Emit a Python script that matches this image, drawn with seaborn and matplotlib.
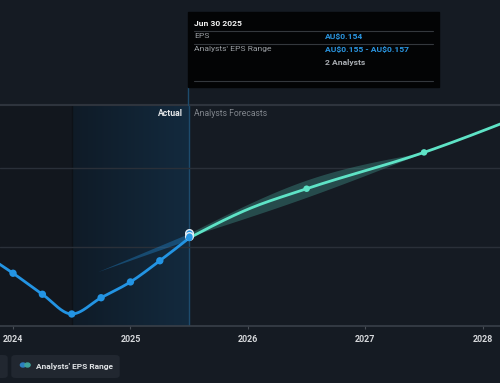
import numpy as np
import pandas as pd
import matplotlib
matplotlib.use("Agg")
import matplotlib.pyplot as plt
import seaborn as sns
from matplotlib.patches import FancyBboxPatch, Rectangle, Circle
from matplotlib.colors import LinearSegmentedColormap

# ---------------- data ----------------
actual_x = [2023.75, 2024.0, 2024.25, 2024.5, 2024.75, 2025.0, 2025.25, 2025.5]
actual_eps = [0.144, 0.1317, 0.1184, 0.1059, 0.1162, 0.1262, 0.1396, 0.154]

forecast_x = [2025.5, 2026.0, 2026.5, 2027.5, 2028.5]
forecast_eps = [0.154, 0.1722, 0.1852, 0.2082, 0.2365]
forecast_marker_x = [2026.5, 2027.5]
forecast_marker_eps = [0.1852, 0.2082]

range_x = [2025.5, 2026.5, 2027.5]
range_low = [0.155, 0.1798, 0.2082]
range_high = [0.157, 0.1907, 0.2082]

past_range_x = [2024.72, 2025.5]
past_range_low = [0.1327, 0.153]
past_range_high = [0.1327, 0.157]

year_ticks = [2024, 2025, 2026, 2027, 2028]

# ---------------- style ----------------
BG = "#151b23"
BLUE = "#2394e3"
TEAL = "#5ee3c6"
sns.set_theme(style="dark")
plt.rcParams["font.family"] = ["Roboto", "DejaVu Sans"]


def smooth(xs, ys, n=300):
    """Monotone cubic curve through the given points (for drawing only)."""
    xs = np.asarray(xs, float)
    ys = np.asarray(ys, float)
    h = np.diff(xs)
    d = np.diff(ys) / h
    m = np.zeros_like(ys)
    for i in range(1, len(ys) - 1):
        if d[i - 1] * d[i] <= 0:
            m[i] = 0.0
        else:
            p = (d[i - 1] * h[i] + d[i] * h[i - 1]) / (h[i - 1] + h[i])
            m[i] = 2 * min(abs(d[i - 1]), abs(d[i]), 0.5 * abs(p)) * np.sign(d[i])
    if len(ys) > 2:
        m[0] = (3 * d[0] - m[1]) / 2
        m[-1] = (3 * d[-1] - m[-2]) / 2
    else:
        m[0] = m[-1] = d[0]
    xx = np.linspace(xs[0], xs[-1], n)
    idx = np.clip(np.searchsorted(xs, xx) - 1, 0, len(xs) - 2)
    t = (xx - xs[idx]) / h[idx]
    h00 = 2 * t**3 - 3 * t**2 + 1
    h10 = t**3 - 2 * t**2 + t
    h01 = -2 * t**3 + 3 * t**2
    h11 = t**3 - t**2
    yy = h00 * ys[idx] + h10 * h[idx] * m[idx] + h01 * ys[idx + 1] + h11 * h[idx] * m[idx + 1]
    return xx, yy


fig = plt.figure(figsize=(5.0, 3.83), dpi=100, facecolor=BG)
W, H = 500, 383
ax = fig.add_axes([0, 1 - 326 / H, 1, (326 - 105) / H])
ax.set_facecolor(BG)

XMIN, XMAX = 2023.889, 2028.147
YMIN, YMAX = 0.0983, 0.2382

# region left of actual highlight
ax.add_patch(Rectangle((XMIN, YMIN), 2024.5 - XMIN, YMAX - YMIN, color="#12171e", zorder=0, lw=0))
# actual highlight gradient
cmap = LinearSegmentedColormap.from_list("g", ["#0f1b27", "#132a3e"])
grad = np.linspace(0, 1, 256).reshape(1, -1)
ax.imshow(grad, extent=[2024.5, 2025.5, YMIN, YMAX], aspect="auto", cmap=cmap, zorder=0.5)
ax.axvline(2024.5, color="#0d1117", lw=1, zorder=0.6)
ax.axvline(2025.5, color="#1d4b6c", lw=1, zorder=0.7)

# grid lines
for gy in [0.1483, 0.1983]:
    ax.axhline(gy, color="#2a3039", lw=1, zorder=0.8)

# past faint range wedge
ax.fill_between(past_range_x, past_range_low, past_range_high, color=BLUE, alpha=0.35, lw=0, zorder=1)

# forecast range band
bx, blo = smooth(range_x, range_low)
_, bhi = smooth(range_x, range_high)
ax.fill_between(bx, blo, bhi, color="#3f8f86", alpha=0.42, lw=0, zorder=1.2)

# lines
ax_x, ax_y = smooth(actual_x, actual_eps)
sns.lineplot(x=ax_x, y=ax_y, ax=ax, color=BLUE, lw=2, zorder=3, estimator=None, sort=False)
fx, fy = smooth(forecast_x, forecast_eps)
sns.lineplot(x=fx, y=fy, ax=ax, color=TEAL, lw=2, zorder=3, estimator=None, sort=False)

# markers
sns.scatterplot(x=actual_x[1:-1], y=actual_eps[1:-1], ax=ax, color=BLUE, s=28, edgecolor="none", zorder=4)
sns.scatterplot(x=forecast_marker_x, y=forecast_marker_eps, ax=ax, color=TEAL, s=22, edgecolor="none", zorder=4)
sns.scatterplot(x=[range_x[0], range_x[0]], y=[range_high[0], range_low[0]], ax=ax, color=BLUE, s=30,
                edgecolor="#e8eef4", linewidth=1, zorder=5)
sns.scatterplot(x=[actual_x[-1]], y=[actual_eps[-1]], ax=ax, color=BLUE, s=22, edgecolor="none", zorder=6)

ax.set_xlim(XMIN, XMAX)
ax.set_ylim(YMIN, YMAX)
ax.set_yticks([])
ax.set_xticks(year_ticks)
ax.set_xticklabels([str(y) for y in year_ticks], fontsize=6.4, color="#d6d8db", fontweight="bold")
ax.tick_params(axis="x", length=2.5, width=0.8, color="#4a5058", pad=4, bottom=True)
ax.set_xlabel("")
ax.set_ylabel("")
for s in ["left", "right"]:
    ax.spines[s].set_visible(False)
ax.spines["bottom"].set_color("#394049")
ax.spines["bottom"].set_linewidth(1.2)
ax.spines["top"].set_color("#2e343d")
ax.spines["top"].set_linewidth(1.5)
ax.grid(False)


def fxp(px):
    return px / W


def fyp(py):
    return 1 - py / H


fig.text(fxp(183), fyp(114), "Actual", ha="right", va="center", fontsize=6.2, color="#e6e8ea", fontweight="bold")
fig.text(fxp(194), fyp(114), "Analysts Forecasts", ha="left", va="center", fontsize=6.2, color="#80858c")

# tooltip
fig.patches.append(Rectangle((fxp(188.3), fyp(87)), fxp(438.7 - 188.3), (87 - 12.3) / H,
                             transform=fig.transFigure, color="#030405", zorder=5))
fig.lines.append(plt.Line2D([fxp(188.3), fxp(188.3)], [fyp(87), fyp(105)], transform=fig.transFigure,
                            color="#1d4b6c", lw=1))
for ly in [30.7, 43.7, 80.7]:
    fig.lines.append(plt.Line2D([fxp(194), fxp(433)], [fyp(ly), fyp(ly)], transform=fig.transFigure,
                                color="#34383d", lw=0.8, zorder=6))
TF = 6.1
fig.text(fxp(194), fyp(23.3), "Jun 30 2025", fontsize=TF, color="#f2f2f2", fontweight="bold", va="center", zorder=7)
fig.text(fxp(194), fyp(36.5), "EPS", fontsize=TF, color="#9a9ea3", va="center", zorder=7)
fig.text(fxp(325), fyp(36.5), "AU\\$0.154", fontsize=TF, color="#2a95e0", fontweight="bold", va="center", zorder=7)
fig.text(fxp(194), fyp(49.3), "Analysts' EPS Range", fontsize=TF, color="#9a9ea3", va="center", zorder=7)
fig.text(fxp(325), fyp(49.3), "AU\\$0.155 - AU\\$0.157", fontsize=TF, color="#2a95e0", fontweight="bold",
         va="center", zorder=7)
fig.text(fxp(325), fyp(62), "2 Analysts", fontsize=TF, color="#a9adb2", fontweight="bold", va="center", zorder=7)

# legend buttons
for x0, x1 in [(-20, 7.7), (11.3, 119.7)]:
    fig.patches.append(FancyBboxPatch((fxp(x0), fyp(378)), fxp(x1 - x0), (378 - 355) / H,
                                      boxstyle="round,pad=0,rounding_size=0.008", transform=fig.transFigure,
                                      facecolor="#212730", edgecolor="none"))
fig.patches.append(Circle((fxp(23), fyp(365)), 2.6 / W, transform=fig.transFigure, color="#2c7fc0"))
fig.patches.append(Circle((fxp(27.5), fyp(365)), 2.6 / W, transform=fig.transFigure, color="#3fa39a"))
fig.text(fxp(36), fyp(366), "Analysts' EPS Range", fontsize=6.0, color="#dfe2e5", fontweight="bold", va="center")

fig.savefig("out.png", dpi=100, facecolor=BG)
